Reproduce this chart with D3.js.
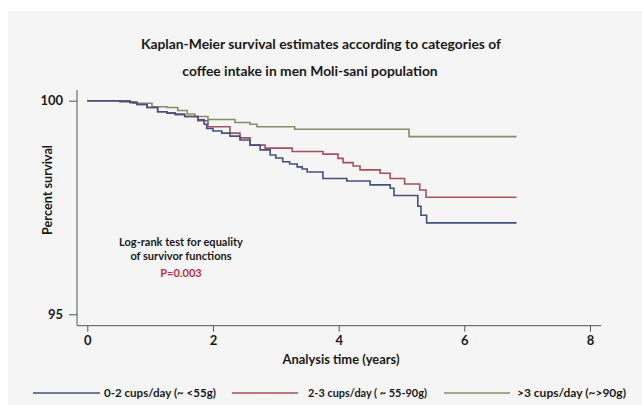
<!DOCTYPE html>
<html>
<head>
<meta charset="utf-8">
<script src="https://cdn.jsdelivr.net/npm/d3@7"></script>
<style>
  html, body { margin: 0; padding: 0; background: #ffffff; }
  svg { display: block; }
  text { font-family: Lato, "Open Sans", sans-serif; font-weight: 700; fill: #1a1a1a; }
</style>
</head>
<body>
<script>
// ---- data ----
const seriesNames = ["0-2 cups/day  (~ <55g)", "2-3 cups/day  ( ~ 55-90g)", ">3 cups/day  (~>90g)"];
const seriesColors = ["#44507e", "#a3525c", "#878c68"];

// Kaplan-Meier steps: time (years) and survival (%) after each step
const lowTimes = [0, 0.52, 0.68, 0.79, 0.95, 1.12, 1.27, 1.40, 1.55, 1.76, 1.86, 1.90, 2.00, 2.14, 2.27, 2.43, 2.59, 2.75, 2.91, 3.00, 3.11, 3.22, 3.34, 3.42, 3.50, 3.75, 4.13, 4.50, 4.82, 4.88, 5.26, 5.31, 5.40, 6.83];
const lowSurv  = [100, 99.99, 99.96, 99.91, 99.84, 99.74, 99.71, 99.68, 99.63, 99.55, 99.45, 99.35, 99.29, 99.24, 99.17, 99.08, 98.96, 98.85, 98.73, 98.66, 98.57, 98.52, 98.45, 98.40, 98.33, 98.18, 98.12, 98.03, 97.95, 97.78, 97.53, 97.32, 97.14, 97.14];

const midTimes = [0, 0.52, 0.68, 0.79, 0.95, 1.12, 1.27, 1.40, 1.55, 1.76, 1.92, 2.27, 2.43, 2.59, 2.83, 3.26, 3.75, 3.99, 4.07, 4.23, 4.34, 4.66, 4.82, 5.05, 5.29, 5.39, 6.83];
const midSurv  = [100, 99.99, 99.96, 99.91, 99.84, 99.74, 99.71, 99.68, 99.63, 99.53, 99.39, 99.24, 99.13, 98.96, 98.89, 98.81, 98.75, 98.65, 98.55, 98.47, 98.38, 98.30, 98.18, 98.05, 97.91, 97.74, 97.74];

const highTimes = [0, 0.52, 0.73, 1.03, 1.27, 1.44, 1.59, 1.71, 1.92, 2.35, 2.59, 2.70, 3.30, 5.12, 6.83];
const highSurv  = [100, 99.97, 99.94, 99.86, 99.84, 99.77, 99.69, 99.63, 99.56, 99.49, 99.45, 99.39, 99.33, 99.16, 99.16];

const xTicks = [0, 2, 4, 6, 8];
const yTicks = [95, 100];

const titleLines = ["Kaplan-Meier survival estimates according to categories of", "coffee intake in men Moli-sani population"];
const noteLines = ["Log-rank test for equality", "of survivor functions"];
const pText = "P=0.003";

// ---- drawing ----
const W = 642, H = 405;
const svg = d3.select("body").append("svg").attr("width", W).attr("height", H);

svg.append("rect").attr("x", 8).attr("y", 11).attr("width", W - 8).attr("height", H - 11).attr("fill", "#f5f5f5");

const x = d3.scaleLinear().domain([0, 8]).range([87.3, 590]);
const y = d3.scaleLinear().domain([95, 100]).range([314.3, 100.7]);

function fit(sel, target) {
  const base = parseFloat(sel.attr("font-size"));
  const w = sel.node().getComputedTextLength();
  sel.attr("font-size", (base * target / w).toFixed(2));
}

// title
const t1 = svg.append("text").attr("x", 321).attr("y", 49).attr("text-anchor", "middle").attr("font-size", 13).text(titleLines[0]);
fit(t1, 360);
const t2 = svg.append("text").attr("x", 310).attr("y", 76).attr("text-anchor", "middle").attr("font-size", 13).text(titleLines[1]);
t2.attr("font-size", t1.attr("font-size"));

// axes
const axisColor = "#555";
svg.append("line").attr("x1", 77).attr("x2", 77).attr("y1", 90).attr("y2", 325.7).attr("stroke", axisColor).attr("stroke-width", 1);
svg.append("line").attr("x1", 77).attr("x2", 601).attr("y1", 325.7).attr("y2", 325.7).attr("stroke", axisColor).attr("stroke-width", 1);

const yAxis = svg.append("g").attr("transform", "translate(77,0)")
  .call(d3.axisLeft(y).tickValues(yTicks).tickSize(8).tickPadding(6).tickFormat(d3.format("d")));
const xAxis = svg.append("g").attr("transform", "translate(0,325.7)")
  .call(d3.axisBottom(x).tickValues(xTicks).tickSize(6).tickPadding(4).tickFormat(d3.format("d")));
[yAxis, xAxis].forEach(g => {
  g.select(".domain").remove();
  g.selectAll(".tick line").attr("stroke", axisColor);
  g.selectAll(".tick text").attr("font-family", "Lato, sans-serif").attr("font-weight", 700).attr("font-size", 13).attr("fill", "#1a1a1a");
});

// axis titles
const xt = svg.append("text").attr("x", 341).attr("y", 364).attr("text-anchor", "middle").attr("font-size", 12).text("Analysis time (years)");
fit(xt, 117);
const yt = svg.append("text").attr("transform", "translate(52,190) rotate(-90)").attr("text-anchor", "middle").attr("font-size", 12).text("Percent survival");
fit(yt, 90);

// curves
const line = d3.line().x(d => x(d[0])).y(d => y(d[1])).curve(d3.curveStepAfter);
const allSeries = [
  d3.zip(lowTimes, lowSurv),
  d3.zip(midTimes, midSurv),
  d3.zip(highTimes, highSurv)
];
[2, 1, 0].forEach(i => {
  svg.append("path").attr("d", line(allSeries[i])).attr("fill", "none")
    .attr("stroke", seriesColors[i]).attr("stroke-width", 1.6);
});

// note
const n1 = svg.append("text").attr("x", 181).attr("y", 246).attr("text-anchor", "middle").attr("font-size", 11).text(noteLines[0]);
fit(n1, 124);
const n2 = svg.append("text").attr("x", 181).attr("y", 259.5).attr("text-anchor", "middle").attr("font-size", n1.attr("font-size")).text(noteLines[1]);
svg.append("text").attr("x", 181).attr("y", 277).attr("text-anchor", "middle").attr("font-size", n1.attr("font-size")).style("fill", "#c0323e").text(pText);

// legend
const legX = [[33, 100, 104, 216], [232, 298, 308, 427], [444, 510, 517, 626]];
seriesNames.forEach((name, i) => {
  const [a, b, c, d] = legX[i];
  svg.append("line").attr("x1", a).attr("x2", b).attr("y1", 393).attr("y2", 393).attr("stroke", seriesColors[i]).attr("stroke-width", 1.6);
  const tx = svg.append("text").attr("x", c).attr("y", 396.5).attr("font-size", 9).text(name);
  fit(tx, d - c);
});
</script>
</body>
</html>
